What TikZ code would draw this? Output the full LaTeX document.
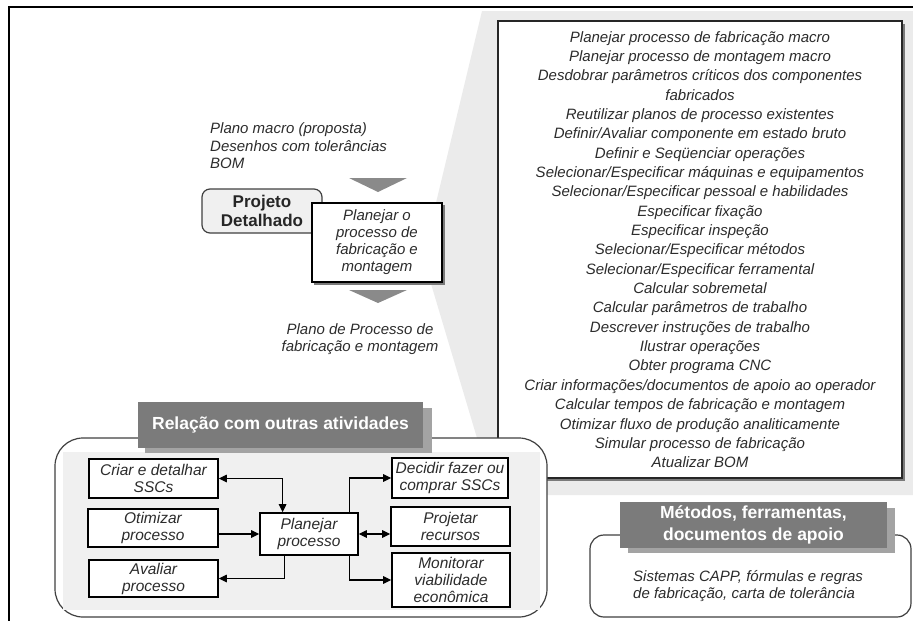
\documentclass[tikz,border=0pt]{standalone}
\usepackage{fontspec}
\setmainfont{Liberation Sans}
\usetikzlibrary{arrows.meta,calc}
\definecolor{ink}{HTML}{2C2C2C}
\definecolor{funnel}{HTML}{EBEBEB}
\definecolor{arrowgray}{HTML}{8A8A8A}
\definecolor{hdrdark}{HTML}{7B7B7B}
\definecolor{hdrlight}{HTML}{A3A3A3}
\definecolor{innergray}{HTML}{F0F0F0}
\definecolor{boxshade}{HTML}{7A7A7A}
\begin{document}
\begin{tikzpicture}[x=1pt,y=-1pt,
  txt/.style={text=ink, inner sep=0pt, font=\fontsize{15}{17.5}\selectfont\itshape},
  taskbox/.style={draw=black, line width=1.6pt, fill=white, inner sep=0pt, align=center,
    text=ink, font=\fontsize{15.5}{17}\selectfont\itshape},
  hdr/.style={fill=hdrdark, text=white, inner sep=0pt, align=center,
    font=\fontsize{17.5}{21.5}\selectfont\bfseries},
  link/.style={line width=1.1pt, draw=black, -{Triangle[length=8pt,width=7.5pt]}},
  bilink/.style={line width=1.1pt, draw=black,
    {Triangle[length=8pt,width=7.5pt]}-{Triangle[length=8pt,width=7.5pt]}},
]
\useasboundingbox (0,0) rectangle (913,621);

% zoom funnel behind the activity box and its task list
\fill[funnel] (482,11) -- (913,11) -- (913,495) -- (494,495) -- (423,257) -- cycle;

% frame
\draw[line width=2pt] (9,621) -- (9,7) -- (913,7);

% inputs, phase and activity
\node[txt, anchor=west, align=left] (inputs) at (210,146)
  {Plano macro (proposta)\\Desenhos com tolerâncias\\BOM};
\fill[arrowgray] (349,178) -- (407,178) -- (378,192) -- cycle;
\node[draw=black!75, line width=1.2pt, fill=innergray, rounded corners=8pt,
  minimum width=120, minimum height=44, inner sep=0pt, align=center, text=black!85,
  font=\fontsize{17}{18.5}\selectfont\bfseries] (phase) at (262,211) {Projeto\\Detalhado};
\fill[boxshade] (314,205) rectangle (444.5,284.5);
\node[draw=black, line width=1.5pt, fill=white, minimum width=130, minimum height=79,
  inner sep=0pt, align=center, text=ink, font=\fontsize{15}{17}\selectfont\itshape]
  (activity) at (377,242.5) {Planejar o\\processo de\\fabricação e\\montagem};
\fill[arrowgray] (349,290) -- (407,290) -- (378,303) -- cycle;
\node[txt, align=center] (outputs) at (360,339) {Plano de Processo de\\fabricação e montagem};

% task list
\fill[boxshade] (500.5,23.5) rectangle (904.5,480.5);
\node[draw=black!85, line width=1.5pt, fill=white, minimum width=404, minimum height=457,
  inner sep=0pt, align=center, text=ink, font=\fontsize{15}{19.35}\selectfont\itshape]
  (tasks) at (700,249.5) {Planejar processo de fabricação macro\\
  Planejar processo de montagem macro\\
  Desdobrar parâmetros críticos dos componentes\\
  fabricados\\
  Reutilizar planos de processo existentes\\
  Definir/Avaliar componente em estado bruto\\
  Definir e Seqüenciar operações\\
  Selecionar/Especificar máquinas e equipamentos\\
  Selecionar/Especificar pessoal e habilidades\\
  Especificar fixação\\
  Especificar inspeção\\
  Selecionar/Especificar métodos\\
  Selecionar/Especificar ferramental\\
  Calcular sobremetal\\
  Calcular parâmetros de trabalho\\
  Descrever instruções de trabalho\\
  Ilustrar operações\\
  Obter programa CNC\\
  Criar informações/documentos de apoio ao operador\\
  Calcular tempos de fabricação e montagem\\
  Otimizar fluxo de produção analiticamente\\
  Simular processo de fabricação\\
  Atualizar BOM};

% relation with other activities
\draw[draw=black!75, line width=1.2pt, fill=white, rounded corners=28pt] (55,438) rectangle (547,617);
\fill[innergray] (63,452) rectangle (540,610);
\fill[hdrlight] (145,408) rectangle (432,453);
\node[hdr, minimum width=285, minimum height=46] (relhdr) at (280.5,425) {Relação com outras atividades};

\node[taskbox, minimum width=129, minimum height=39] (criar) at (153.5,478.5) {Criar e detalhar\\SSCs};
\node[taskbox, minimum width=130, minimum height=38] (otim) at (153,528) {Otimizar\\processo};
\node[taskbox, minimum width=129, minimum height=37] (aval) at (153.5,578.5) {Avaliar\\processo};
\node[taskbox, minimum width=98, minimum height=42] (plan) at (309,534) {Planejar\\processo};
\node[taskbox, minimum width=116, minimum height=40] (decid) at (450,478) {Decidir fazer ou\\comprar SSCs};
\node[taskbox, minimum width=119, minimum height=39] (proj) at (450.5,526.5) {Projetar\\recursos};
\node[taskbox, minimum width=118, minimum height=54] (monit) at (451,580) {Monitorar\\viabilidade\\econômica};

\draw[bilink] (criar.east) -| ($(plan.north west)!0.235!(plan.north east)$);
\draw[link] (plan.west -| otim.east) -- (plan.west);
\draw[link] ($(plan.south west)!0.25!(plan.south east)$) |- (aval.east);
\draw[link] ($(plan.north west)!0.91!(plan.north east)$) |- (decid.west);
\draw[bilink] (plan.east) -- (plan.east -| proj.west);
\draw[link] ($(plan.south west)!0.91!(plan.south east)$) |- (monit.west);

% methods, tools and supporting documents
\draw[draw=black!75, line width=1.2pt, fill=white, rounded corners=14pt] (590,535) rectangle (911,617);
\fill[hdrlight] (628,508) rectangle (895,553);
\node[hdr, minimum width=267, minimum height=46] (methdr) at (753.5,525) {Métodos, ferramentas,\\documentos de apoio};
\node[txt, anchor=west, align=left] (mettxt) at (633,586)
  {Sistemas CAPP, fórmulas e regras\\de fabricação, carta de tolerância};
\end{tikzpicture}
\end{document}
